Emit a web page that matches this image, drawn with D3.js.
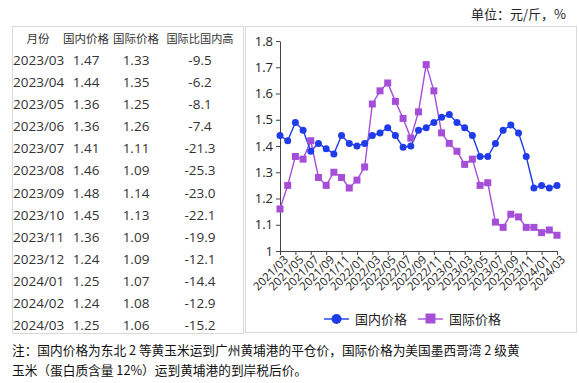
<!DOCTYPE html>
<html><head><meta charset="utf-8">
<script src="https://cdn.jsdelivr.net/npm/d3@7"></script>
<style>
body{margin:0;background:#fff;}
svg{display:block;font-family:"Noto Sans CJK SC","Noto Sans",sans-serif;}
</style></head><body>
<svg id="c" width="579" height="383"></svg>
<script>
const months = [];
for (let y = 2021, m = 3; y < 2024 || (y === 2024 && m <= 3); m++) { if (m > 12) { m = 1; y++; } if (y === 2024 && m > 3) break; months.push(y + "/" + String(m).padStart(2, "0")); }
const domestic = [1.44,1.42,1.49,1.46,1.38,1.41,1.39,1.37,1.44,1.41,1.40,1.41,1.44,1.45,1.47,1.44,1.395,1.40,1.46,1.47,1.49,1.51,1.52,1.49,1.47,1.44,1.36,1.36,1.41,1.46,1.48,1.45,1.36,1.24,1.25,1.24,1.25];
const international = [1.16,1.25,1.36,1.35,1.42,1.28,1.25,1.30,1.28,1.24,1.27,1.32,1.56,1.61,1.64,1.57,1.505,1.43,1.53,1.71,1.61,1.45,1.41,1.38,1.33,1.35,1.25,1.26,1.11,1.09,1.14,1.13,1.09,1.09,1.07,1.08,1.06];
const tableMonths = ["2023/03","2023/04","2023/05","2023/06","2023/07","2023/08","2023/09","2023/10","2023/11","2023/12","2024/01","2024/02","2024/03"];
const tableDomestic = ["1.47","1.44","1.36","1.36","1.41","1.46","1.48","1.45","1.36","1.24","1.25","1.24","1.25"];
const tableIntl = ["1.33","1.35","1.25","1.26","1.11","1.09","1.14","1.13","1.09","1.09","1.07","1.08","1.06"];
const tableDiff = ["-9.5","-6.2","-8.1","-7.4","-21.3","-25.3","-23.0","-22.1","-19.9","-12.1","-14.4","-12.9","-15.2"];
const headers = ["月份","国内价格","国际价格","国际比国内高"];
const yTicks = [1,1.1,1.2,1.3,1.4,1.5,1.6,1.7,1.8];

const BLUE = "#1f3ce8", PURPLE = "#a54fd8";
const svg = d3.select("#c");

// unit label
svg.append("text").attr("x",566).attr("y",19).attr("text-anchor","end")
  .attr("font-size",13).attr("fill","#222").text("单位：元/斤，%");

// table box
svg.append("rect").attr("x",12.5).attr("y",26.5).attr("width",231).attr("height",307)
  .attr("fill","none").attr("stroke","#d9d9d9");
// chart box
svg.append("rect").attr("x",245.5).attr("y",26.5).attr("width",331).attr("height",306)
  .attr("fill","none").attr("stroke","#d9d9d9");

// table
const colX = [38, 86, 136, 200];
const headerSize = [11.5, 11.5, 11.5, 11.2];
headers.forEach((h,i)=>{
  svg.append("text").attr("x",colX[i]).attr("y",43).attr("text-anchor","middle")
    .attr("font-size",headerSize[i]).attr("fill","#333").text(h);
});
const rowY = d3.scaleLinear().domain([0,12]).range([65,330]);
const tg = svg.append("g").attr("font-size",13.5).attr("fill","#333").attr("font-family","'Open Sans','Noto Sans',sans-serif");
tableMonths.forEach((m,i)=>{
  const y = rowY(i);
  tg.append("text").attr("x",13).attr("y",y).text(m);
  tg.append("text").attr("x",86).attr("y",y).attr("text-anchor","middle").text(tableDomestic[i]);
  tg.append("text").attr("x",136).attr("y",y).attr("text-anchor","middle").text(tableIntl[i]);
  tg.append("text").attr("x",200).attr("y",y).attr("text-anchor","middle").text(tableDiff[i]);
});

// chart
const x = d3.scalePoint().domain(months).range([280,557]);
const y = d3.scaleLinear().domain([1,1.8]).range([251,41]);

const yAxis = svg.append("g").attr("transform","translate(280,0)")
  .call(d3.axisLeft(y).tickValues(yTicks).tickFormat(d=>d===1?"1":d3.format(".1f")(d)).tickSize(4).tickSizeOuter(0));
yAxis.selectAll("text").attr("font-size",13).attr("fill","#222").attr("font-family","'Open Sans','Noto Sans',sans-serif");
yAxis.selectAll("line,path").attr("stroke","#444");

const labelMonths = months.filter((d,i)=>i%2===0);
const xAxis = svg.append("g").attr("transform","translate(0,251)")
  .call(d3.axisBottom(x).tickValues(labelMonths).tickSize(4).tickSizeOuter(0));
xAxis.selectAll("line,path").attr("stroke","#444");
xAxis.selectAll(".tick text").attr("font-size",11.5).attr("fill","#222")
  .attr("font-family","'Open Sans','Noto Sans',sans-serif")
  .attr("text-anchor","end").attr("dy","0.3em").attr("y",0).attr("x",0)
  .attr("transform","translate(6,7) rotate(-45)");

const line = d3.line().x((d,i)=>x(months[i])).y(d=>y(d));
svg.append("path").datum(international).attr("d",line).attr("fill","none").attr("stroke",PURPLE).attr("stroke-width",1.4);
svg.append("path").datum(domestic).attr("d",line).attr("fill","none").attr("stroke",BLUE).attr("stroke-width",1.4);

svg.append("g").selectAll("rect").data(international).join("rect")
  .attr("x",(d,i)=>x(months[i])-3.5).attr("y",d=>y(d)-3.5).attr("width",7).attr("height",7).attr("fill",PURPLE);
svg.append("g").selectAll("circle").data(domestic).join("circle")
  .attr("cx",(d,i)=>x(months[i])).attr("cy",d=>y(d)).attr("r",3.5).attr("fill",BLUE);

// legend
const lg = svg.append("g");
lg.append("line").attr("x1",324).attr("x2",349).attr("y1",319).attr("y2",319).attr("stroke",BLUE).attr("stroke-width",1.4);
lg.append("circle").attr("cx",336.5).attr("cy",319).attr("r",5).attr("fill",BLUE);
lg.append("text").attr("x",355).attr("y",324).attr("font-size",13).attr("fill","#222").text("国内价格");
lg.append("line").attr("x1",418).attr("x2",443).attr("y1",319).attr("y2",319).attr("stroke",PURPLE).attr("stroke-width",1.4);
lg.append("rect").attr("x",425.5).attr("y",313.5).attr("width",10).attr("height",10).attr("fill",PURPLE);
lg.append("text").attr("x",449).attr("y",324).attr("font-size",13).attr("fill","#222").text("国际价格");

// footnote
svg.append("text").attr("x",12).attr("y",355).attr("font-size",12.7).attr("fill","#111")
  .text("注：国内价格为东北 2 等黄玉米运到广州黄埔港的平仓价，国际价格为美国墨西哥湾 2 级黄");
svg.append("text").attr("x",12).attr("y",375).attr("font-size",12.7).attr("fill","#111")
  .text("玉米（蛋白质含量 12%）运到黄埔港的到岸税后价。");
</script>
</body></html>
